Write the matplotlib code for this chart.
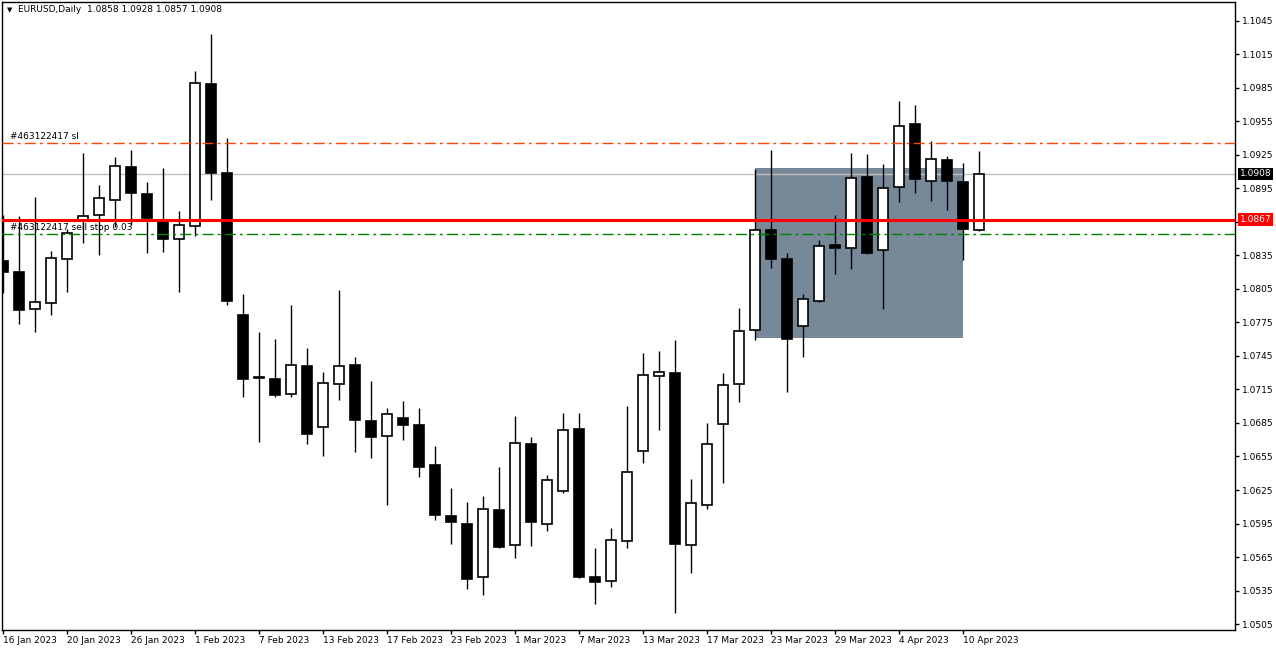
import numpy as np
import matplotlib.pyplot as plt
from matplotlib.patches import Rectangle

# daily EURUSD candles, 16 Jan 2023 .. 11 Apr 2023
opens = [1.0830, 1.0820, 1.0787, 1.0792, 1.0832, 1.0867, 1.0871, 1.0885, 1.0914, 1.0890,
         1.0867, 1.0850, 1.0861, 1.0988, 1.0909, 1.0782, 1.0726, 1.0724, 1.0711, 1.0736,
         1.0681, 1.0720, 1.0737, 1.0687, 1.0673, 1.0689, 1.0683, 1.0647, 1.0602, 1.0595,
         1.0547, 1.0607, 1.0576, 1.0666, 1.0595, 1.0624, 1.0680, 1.0547, 1.0544, 1.0579,
         1.0660, 1.0727, 1.0730, 1.0576, 1.0612, 1.0684, 1.0720, 1.0768, 1.0858, 1.0832,
         1.0772, 1.0794, 1.0844, 1.0842, 1.0905, 1.0840, 1.0896, 1.0953, 1.0902, 1.0920,
         1.0901, 1.0858]
highs = [1.0871, 1.0870, 1.0887, 1.0839, 1.0859, 1.0927, 1.0898, 1.0923, 1.0929, 1.0901,
         1.0913, 1.0875, 1.1000, 1.1033, 1.0940, 1.0800, 1.0766, 1.0760, 1.0791, 1.0752,
         1.0731, 1.0804, 1.0744, 1.0723, 1.0698, 1.0705, 1.0698, 1.0664, 1.0627, 1.0614,
         1.0620, 1.0646, 1.0691, 1.0672, 1.0638, 1.0694, 1.0694, 1.0573, 1.0591, 1.0700,
         1.0748, 1.0749, 1.0759, 1.0635, 1.0685, 1.0730, 1.0788, 1.0912, 1.0929, 1.0837,
         1.0800, 1.0849, 1.0871, 1.0927, 1.0926, 1.0917, 1.0973, 1.0970, 1.0937, 1.0924,
         1.0918, 1.0928]
lows = [1.0801, 1.0774, 1.0766, 1.0782, 1.0802, 1.0846, 1.0835, 1.0860, 1.0862, 1.0837,
        1.0838, 1.0802, 1.0852, 1.0885, 1.0791, 1.0708, 1.0668, 1.0708, 1.0708, 1.0666,
        1.0655, 1.0706, 1.0659, 1.0654, 1.0612, 1.0670, 1.0637, 1.0598, 1.0577, 1.0536,
        1.0531, 1.0573, 1.0564, 1.0575, 1.0588, 1.0622, 1.0546, 1.0523, 1.0538, 1.0573,
        1.0649, 1.0679, 1.0515, 1.0551, 1.0608, 1.0631, 1.0704, 1.0759, 1.0824, 1.0713,
        1.0744, 1.0793, 1.0818, 1.0823, 1.0836, 1.0787, 1.0883, 1.0891, 1.0884, 1.0876,
        1.0831, 1.0857]
closes = [1.0820, 1.0786, 1.0793, 1.0833, 1.0855, 1.0870, 1.0886, 1.0915, 1.0891, 1.0868,
          1.0850, 1.0862, 1.0989, 1.0909, 1.0794, 1.0724, 1.0725, 1.0710, 1.0737, 1.0675,
          1.0721, 1.0736, 1.0688, 1.0672, 1.0693, 1.0683, 1.0646, 1.0603, 1.0596, 1.0545,
          1.0608, 1.0574, 1.0667, 1.0596, 1.0634, 1.0679, 1.0547, 1.0543, 1.0580, 1.0641,
          1.0728, 1.0731, 1.0577, 1.0613, 1.0666, 1.0719, 1.0767, 1.0858, 1.0832, 1.0760,
          1.0796, 1.0843, 1.0842, 1.0904, 1.0837, 1.0895, 1.0951, 1.0903, 1.0921, 1.0902,
          1.0859, 1.0908]

tick_pos = [0, 4, 8, 12, 16, 20, 24, 28, 32, 36, 40, 44, 48, 52, 56, 60]
tick_labels = ['16 Jan 2023', '20 Jan 2023', '26 Jan 2023', '1 Feb 2023', '7 Feb 2023',
               '13 Feb 2023', '17 Feb 2023', '23 Feb 2023', '1 Mar 2023', '7 Mar 2023',
               '13 Mar 2023', '17 Mar 2023', '23 Mar 2023', '29 Mar 2023', '4 Apr 2023',
               '10 Apr 2023']
price_ticks = np.round(np.arange(1.0505, 1.1046, 0.003), 4)

sl_price = 1.0936
stop_price = 1.0854
bid_price = 1.0908
level_price = 1.0867
box_start, box_end = 47, 60
box_low, box_high = 1.0761, 1.0913

plt.rcParams['font.family'] = 'DejaVu Sans'
fs = 6.5

fig = plt.figure(figsize=(12.76, 6.51), dpi=100)
ax = fig.add_axes([2.5 / 1276, 21 / 651, (1235 - 2.5) / 1276, (630 - 2.3) / 651])

o = np.array(opens)
h = np.array(highs)
l = np.array(lows)
c = np.array(closes)
x = np.arange(len(o))
up = c >= o

ax.add_patch(Rectangle((box_start, box_low), box_end - box_start, box_high - box_low,
                       fc='#778899', ec='none', zorder=1))
ax.axhline(bid_price, color='#C0C0C0', lw=1, zorder=2)

ax.vlines(x, l, h, color='black', lw=1, zorder=3)
ax.bar(x[up], c[up] - o[up], bottom=o[up], width=0.66, color='white',
       edgecolor='black', lw=1.2, zorder=4)
ax.bar(x[~up], o[~up] - c[~up], bottom=c[~up], width=0.66, color='black',
       edgecolor='black', lw=1.2, zorder=4)

dashdot = (0, (8, 3, 2, 3))
ax.axhline(sl_price, color='#FF4500', lw=1, ls=dashdot, zorder=5)
ax.axhline(stop_price, color='#008000', lw=1, ls=dashdot, zorder=5)
ax.axhline(level_price, color='#FF0000', lw=2.2, zorder=6)

ax.annotate('#463122417 sl', xy=(0, sl_price), xycoords=('axes fraction', 'data'),
            xytext=(7, 2), textcoords='offset pixels', fontsize=fs, va='bottom')
ax.annotate('#463122417 sell stop 0.03', xy=(0, stop_price), xycoords=('axes fraction', 'data'),
            xytext=(7, 2), textcoords='offset pixels', fontsize=fs, va='bottom')

ax.set_xlim(-0.03, 77)
ax.set_ylim(1.04997, 1.10615)

# the 1.0865 label sits under the red price box in the terminal, so leave it blank
ylabels = []
for p in price_ticks:
    if abs(p - level_price) < 0.0008:
        ylabels.append('')
    else:
        ylabels.append('%.4f' % p)

ax.yaxis.tick_right()
ax.set_yticks(price_ticks)
ax.set_yticklabels(ylabels)
ax.set_xticks(tick_pos)
ax.set_xticklabels(tick_labels, ha='left')
ax.tick_params(axis='y', direction='out', length=3, width=1, labelsize=fs, pad=2)
ax.tick_params(axis='x', direction='out', length=3, width=1, labelsize=fs, pad=1)
for s in ax.spines.values():
    s.set_color('black')
    s.set_linewidth(1)

for price, col in [(bid_price, 'black'), (level_price, '#FF0000')]:
    ax.annotate('%.4f' % price, xy=(1, price), xycoords=('axes fraction', 'data'),
                xytext=(5, 0), textcoords='offset pixels', fontsize=fs, color='white',
                va='center', ha='left', zorder=10, annotation_clip=False,
                bbox=dict(boxstyle='square,pad=0.2', fc=col, ec='none'))

fig.text(7 / 1276, 1 - 10 / 651, '\u25bc', fontsize=5, va='center')
fig.text(18 / 1276, 1 - 10 / 651,
         'EURUSD,Daily  %.4f %.4f %.4f %.4f' % (opens[-1], highs[-1], lows[-1], closes[-1]),
         fontsize=fs, va='center')

fig.savefig('out.png', dpi=100)
